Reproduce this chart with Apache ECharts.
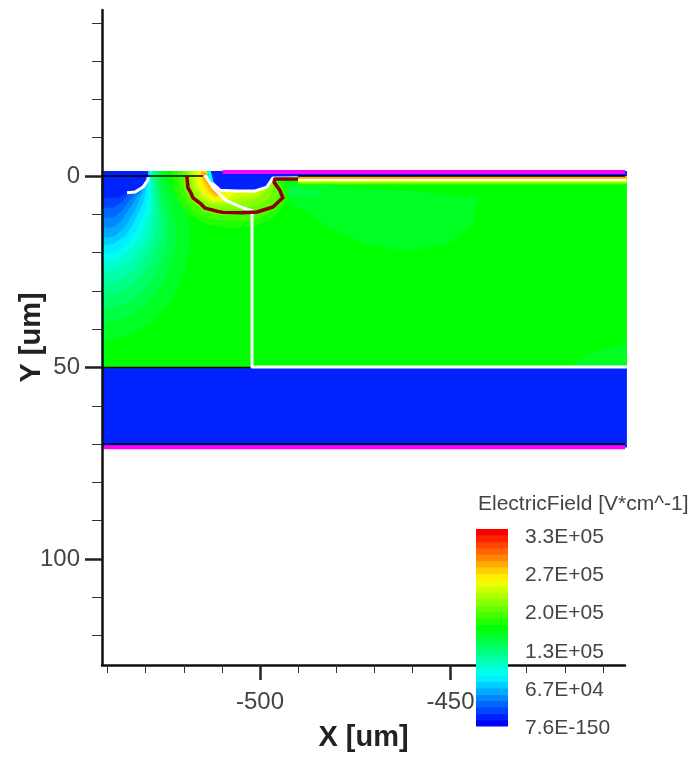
<!DOCTYPE html>
<html>
<head>
<meta charset="utf-8">
<style>html,body{margin:0;padding:0;background:#fff}#c{width:698px;height:757px}</style>
<script src="https://cdn.jsdelivr.net/npm/echarts@6/dist/echarts.min.js"></script>
</head>
<body>
<div id="c"></div>
<script>
// ---- axes ----
const xMajorTicks = [-500, -450];
const xMinorTicks = [-540,-530,-520,-510,-490,-480,-470,-460,-440,-430,-420,-410];
const yMajorTicks = [0, 50, 100];
const yMinorTicks = [-40,-30,-20,-10,10,20,30,40,60,70,80,90,110,120];
const xExtent = [-541.47, -404.2];
const yExtent = [-43.34, 127.68];

// ---- colour bar ----
const legendTitle = 'ElectricField [V*cm^-1]';
const legendTickValues = [0, 66700, 133000, 200000, 267000, 333000];
const legendTickLabels = ['7.6E-150', '6.7E+04', '1.3E+05', '2.0E+05', '2.7E+05', '3.3E+05'];
const legendExtent = [0, 346950];
const legendBarRange = [3500, 346950];
const palette = ['#0000ff','#0022ff','#0044ff','#0066ff','#0088ff','#00aaff','#00ccff','#00eeff',
  '#00ffee','#00ffcc','#00ffaa','#00ff88','#00ff66','#00ff44','#00ff22','#00ff00','#22ff00','#44ff00',
  '#66ff00','#88ff00','#aaff00','#ccff00','#eeff00','#ffee00','#ffcc00','#ffaa00','#ff8800','#ff6600',
  '#ff4400','#ff2200','#ff0000'];

// ---- field regions, painted back to front: [palette level, outline in um] ----
const deviceRegions = [
  [15, [[-541.5,-1.3],[-403.7,-1.3],[-403.7,50],[-541.5,50]]],
  [1,  [[-541.5,50],[-403.7,50],[-403.7,70.9],[-541.5,70.9]]],
  [14, [[-419.4,49.9],[-412.6,46],[-403.7,43.6],[-403.7,49.9]]],
  [14, [[-494,1.6],[-489.5,2.1],[-480.8,2.6],[-463.3,3.7],[-443,5.5],[-443,7],[-444.1,12.3],[-450.1,17.5],[-460.6,19.8],[-471.9,18],[-482.4,13.3],[-489.5,8.4],[-492.1,7.6],[-492.7,5]]],
  [13, [[-492.1,2.6],[-489.5,3.1],[-486.1,3.7],[-482.9,4.4],[-486.1,5.7],[-489.5,5.5],[-492.7,5.2]]]
];
const leftContours = [
  [14, [[-541.5,-1.3],[-541.5,43.3],[-534.1,41.5],[-527.6,37.6],[-522.8,31.9],[-519.4,24.5],[-518.1,16.7],[-519.2,8.9],[-524.9,0],[-524.9,-1.3]]],
  [13, [[-541.5,-1.3],[-541.5,38.6],[-534.6,36.8],[-529.4,33.2],[-525.2,27.7],[-522.6,20.9],[-521.8,14.1],[-523.4,7],[-526.2,0],[-526.2,-1.3]]],
  [12, [[-541.5,-1.3],[-541.5,35],[-535.4,33.4],[-530.7,30],[-527,25.1],[-524.7,19.3],[-524.1,12.8],[-525.5,6.3],[-527,0],[-527,-1.3]]],
  [11, [[-541.5,-1.3],[-541.5,31.3],[-536.2,30],[-532,26.9],[-528.6,22.5],[-526.2,16.7],[-525.7,11],[-526.8,5],[-527.6,0],[-527.6,-1.3]]],
  [10, [[-541.5,-1.3],[-541.5,28.2],[-536.7,27.2],[-532.8,24.3],[-529.7,20.4],[-527.6,14.9],[-527,9.4],[-527.6,3.7],[-528.1,0],[-528.1,-1.3]]],
  [9,  [[-541.5,-1.3],[-541.5,25.1],[-537.3,24.3],[-533.9,21.9],[-530.7,18],[-528.6,12.8],[-528.1,7.3],[-528.3,3.1],[-528.3,0],[-528.3,-1.3]]],
  [8,  [[-541.5,-1.3],[-541.5,22.7],[-538.1,21.9],[-534.6,19.8],[-531.5,15.7],[-529.4,10.2],[-528.6,5.7],[-528.9,2.6],[-528.6,0],[-528.6,-1.3]]],
  [7,  [[-541.5,-1.3],[-541.5,20.6],[-538.1,19.8],[-534.9,18],[-532.3,14.1],[-530.2,9.4],[-529.4,5.5],[-529.4,2.6],[-528.9,0],[-528.9,-1.3]]],
  [6,  [[-541.5,-1.3],[-541.5,18.3],[-538.1,17.5],[-535.4,15.7],[-533.1,12.3],[-531.2,8.4],[-530.2,5.2],[-529.9,2.6],[-529.1,0],[-529.1,-1.3]]],
  [5,  [[-541.5,-1.3],[-541.5,16.2],[-538.1,15.7],[-535.7,13.6],[-533.6,10.4],[-532,7.3],[-531,4.7],[-530.2,2.6],[-529.4,0],[-529.4,-1.3]]],
  [4,  [[-541.5,-1.3],[-541.5,13.6],[-538.1,13.3],[-536.2,11.5],[-534.4,8.6],[-532.8,6.3],[-531.5,4.4],[-529.7,0],[-529.7,-1.3]]],
  [3,  [[-541.5,-1.3],[-541.5,11],[-538.1,10.7],[-536.2,9.1],[-534.6,6.8],[-533.1,5.2],[-529.7,0],[-529.7,-1.3]]],
  [2,  [[-541.5,-1.3],[-541.5,8.4],[-538.1,8.1],[-536.2,6.8],[-534.9,5.2],[-533.3,4.4],[-529.7,0],[-529.7,-1.3]]],
  [1,  [[-541.5,-1.3],[-541.5,5.7],[-537.3,5.7],[-534.9,4.4],[-532.8,4.2],[-530.7,2.9],[-529.4,1],[-529.4,-1.3]]]
];
const hotContours = [
  [16, [[-523.1,-1.3],[-523.1,0],[-522.6,3.7],[-521,7.6],[-518.4,10.4],[-514.4,12.5],[-507.9,13.6],[-501.3,13.1],[-496.1,10.7],[-492.9,7],[-492.7,4.2],[-494.2,1],[-495.3,0],[-495.3,-1.3]]],
  [17, [[-521.5,-1.3],[-521.5,0],[-521,3.7],[-519.4,7],[-516.8,9.7],[-512.6,11.2],[-506.6,11.7],[-500.5,11.2],[-496.3,9.1],[-493.7,6.3],[-493.7,4.2],[-495,1.6],[-496.1,0],[-496.1,-1.3]]],
  [18, [[-520.2,-1.3],[-520.2,0],[-519.7,3.7],[-518.1,6.5],[-515.5,8.9],[-511.5,10.2],[-505.8,10.2],[-500.5,9.4],[-496.9,7.6],[-495,5.2],[-495.5,2.6],[-496.3,0],[-496.3,-1.3]]],
  [19, [[-519.2,-1.3],[-519.2,0],[-518.6,3.4],[-517.1,6],[-514.4,8.1],[-510.5,8.9],[-505.2,8.6],[-500.5,7.6],[-497.9,6],[-496.6,3.9],[-496.6,-1.3]]],
  [20, [[-518.4,-1.3],[-518.4,0],[-517.8,2.9],[-516.3,5.5],[-513.6,7.3],[-510,7.8],[-505.2,7],[-500.8,5.7],[-498.7,4.4],[-496.9,0],[-496.9,-1.3]]],
  [21, [[-517.6,-1.3],[-517.6,0],[-517.1,2.9],[-515.5,5.2],[-512.9,7],[-509.2,7],[-505.2,5.7],[-500.8,4.7],[-496.9,0],[-496.9,-1.3]]],
  [22, [[-516.8,-1.3],[-516.8,0],[-516.3,2.6],[-514.7,5],[-512.1,6.8],[-509.2,6.3],[-505.8,4.4],[-509.2,0],[-509.2,-1.3]]],
  [23, [[-516,-1.3],[-516,0],[-515.5,2.3],[-514.2,4.7],[-511.8,6.3],[-510,5.5],[-510.5,0],[-510.5,-1.3]]],
  [24, [[-515.5,-1.3],[-515.5,0],[-514.7,2.1],[-513.4,4.2],[-511.5,5.7],[-510.5,4.2],[-511,0]]],
  [25, [[-515,-1.3],[-515,0],[-513.9,2.1],[-512.6,3.9],[-511.3,5.2],[-510.8,3.7],[-512.6,0]]]
];
const surfaceRegions = [
  [8, [[-513.9,-1.3],[-513.9,0],[-512.9,1.6],[-511.8,2.1],[-512.1,-1.3]]],
  [1, [[-512.9,-1.3],[-512.6,0],[-512.1,2.1],[-510.5,3.7],[-506,3.9],[-501.3,3.9],[-498.2,2.9],[-496.6,0.5],[-490,0],[-403.7,0],[-403.7,-1.3]]],
  [16, [[-490,0],[-403.7,0],[-403.7,2.4],[-490,2.4]]],
  [19, [[-490,0],[-403.7,0],[-403.7,2],[-490,2]]],
  [22, [[-490,0],[-403.7,0],[-403.7,1.6],[-490,1.6]]],
  [25, [[-490,0],[-403.7,0],[-403.7,0.8],[-490,0.8]]]
];

// ---- outlines ----
const blackSegments = [
  [[-541.5,0],[-515,0]],
  [[-490,0],[-404.2,0]],
  [[-541.5,50],[-502.1,50]],
  [[-541.5,70],[-404.2,70]]
];
const magentaSegments = [
  [[-509.8,-1.05],[-404.2,-1.05]],
  [[-541.5,70.85],[-404.2,70.85]]
];
const whiteCurves = [
  [[-529.4,0.3],[-529.4,1],[-530.7,2.9],[-532.8,4.2],[-534.9,4.4]],
  [[-514.4,-0.2],[-512.3,3.1],[-508.7,6.5],[-504.5,8.3],[-501.8,9.2]],
  [[-512.6,1.8],[-510.5,3.7],[-506,3.9],[-501.3,3.9],[-498.2,2.9],[-496.6,0.5],[-490.3,0.5]],
  [[-502.1,9.4],[-502.1,49.9],[-403.7,49.9]]
];
const whiteSurfaceLine = [[-490.3,1],[-403.7,1]];
const darkRedCurve = [[-519.2,0],[-518.9,3.1],[-518.1,4.5],[-517.6,5.7],[-515.5,7.3],[-514.4,8.4],[-511.3,9.2],[-509.7,9.5],[-505,9.6],[-500.8,9.4],[-496.6,8.1],[-494,5.7],[-494.8,3.7],[-496.3,1.6],[-496.1,0.8],[-490,0.8]];

const allRegions = deviceRegions.concat(leftContours, hotContours, surfaceRegions);

function lineSeries(points, color, width, z) {
  return { type:'line', xAxisIndex:0, yAxisIndex:0, data:points, showSymbol:false, silent:true,
    clip:false, z:z, lineStyle:{color:color, width:width, cap:'butt', join:'round'}, animation:false };
}

const font = '"Liberation Sans", Arial, sans-serif';
const chart = echarts.init(document.getElementById('c'));
chart.setOption({
  animation:false,
  backgroundColor:'#ffffff',
  title:{ text:legendTitle, left:473, top:489, textStyle:{fontFamily:font, fontSize:21, fontWeight:'normal', color:'#444'} },
  grid:[
    { left:102, top:10, width:523, height:655, outerBoundsMode:'none' },
    { left:476, top:529, width:32, height:199, outerBoundsMode:'none' }
  ],
  xAxis:[
    { type:'value', gridIndex:0, min:xExtent[0], max:xExtent[1], position:'bottom', z:10,
      axisLine:{onZero:false, lineStyle:{color:'#111', width:2.5}},
      axisTick:{customValues:xMajorTicks, length:15, lineStyle:{color:'#222', width:2.5}},
      axisLabel:{customValues:xMajorTicks, margin:25, fontFamily:font, fontSize:24, color:'#444'},
      splitLine:{show:false}, name:'X [um]', nameLocation:'middle', nameGap:58, nameMoveOverlap:false,
      nameTextStyle:{fontFamily:font, fontSize:29, fontWeight:'bold', color:'#222'} },
    { type:'value', gridIndex:0, min:xExtent[0], max:xExtent[1], position:'bottom', z:10,
      axisLine:{show:false, onZero:false},
      axisTick:{customValues:xMinorTicks, length:8, lineStyle:{color:'#333', width:1}},
      axisLabel:{show:false}, splitLine:{show:false} },
    { type:'value', gridIndex:1, min:0, max:1, show:false }
  ],
  yAxis:[
    { type:'value', gridIndex:0, inverse:true, min:yExtent[0], max:yExtent[1], position:'left', z:10,
      axisLine:{onZero:false, lineStyle:{color:'#111', width:2.5}},
      axisTick:{customValues:yMajorTicks, length:17, lineStyle:{color:'#222', width:2.5}},
      axisLabel:{customValues:yMajorTicks, margin:22, fontFamily:font, fontSize:24, color:'#444'},
      splitLine:{show:false}, name:'Y [um]', nameLocation:'middle', nameGap:56, nameMoveOverlap:false,
      nameTextStyle:{fontFamily:font, fontSize:29, fontWeight:'bold', color:'#222'} },
    { type:'value', gridIndex:0, inverse:true, min:yExtent[0], max:yExtent[1], position:'left', z:10,
      axisLine:{show:false, onZero:false},
      axisTick:{customValues:yMinorTicks, length:10, lineStyle:{color:'#333', width:1}},
      axisLabel:{show:false}, splitLine:{show:false} },
    { type:'value', gridIndex:1, min:legendExtent[0], max:legendExtent[1], position:'right',
      axisLine:{show:false}, axisTick:{show:false}, splitLine:{show:false},
      axisLabel:{customValues:legendTickValues, margin:17, fontFamily:font, fontSize:21, color:'#444',
        formatter:function(v){ return legendTickLabels[legendTickValues.indexOf(v)]; }} }
  ],
  series:[
    { type:'custom', xAxisIndex:0, yAxisIndex:0, coordinateSystem:'cartesian2d', clip:false, silent:true, z:2,
      data:allRegions.map(function(r,i){ return [r[0], i]; }),
      encode:{x:-1,y:-1},
      renderItem:function(params, api){
        var r = allRegions[params.dataIndex];
        return { type:'polygon', shape:{points:r[1].map(function(p){ return api.coord(p); })},
          style:{fill:palette[r[0]]} };
      } },
    { type:'custom', xAxisIndex:2, yAxisIndex:2, coordinateSystem:'cartesian2d', clip:false, silent:true, z:20,
      data:palette.map(function(c,i){ return [i]; }),
      encode:{x:-1,y:-1},
      renderItem:function(params, api){
        var step = (legendBarRange[1]-legendBarRange[0])/palette.length;
        var i = params.dataIndex;
        var a = api.coord([0, legendBarRange[0]+i*step]);
        var b = api.coord([1, legendBarRange[0]+(i+1)*step]);
        return { type:'rect', shape:{x:a[0], y:b[1], width:b[0]-a[0], height:a[1]-b[1]+0.5}, style:{fill:palette[i]} };
      } }
  ].concat(
    magentaSegments.map(function(s){ return lineSeries(s,'#ff00ff',4,4); }),
    blackSegments.map(function(s){ return lineSeries(s,'#000000',1.5,5); }),
    whiteCurves.map(function(s){ return lineSeries(s,'#ffffff',3,6); }),
    [lineSeries(whiteSurfaceLine,'#ffffff',2,6), lineSeries(darkRedCurve,'#8b0000',3.5,7)]
  )
});
</script>
</body>
</html>
